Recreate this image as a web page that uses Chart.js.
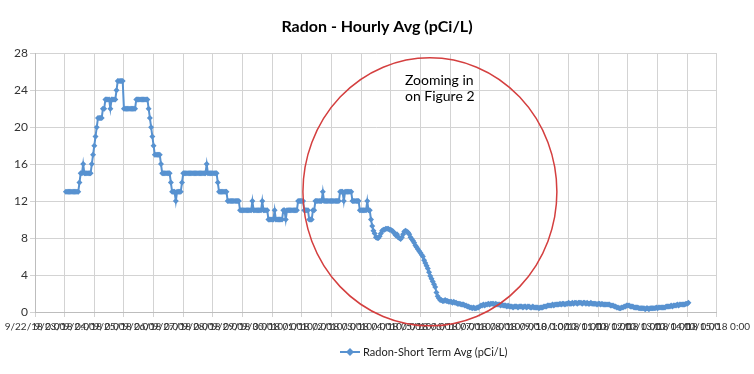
<!DOCTYPE html>
<html><head><meta charset="utf-8">
<script src="https://cdn.jsdelivr.net/npm/chart.js@4/dist/chart.umd.min.js"></script>
<style>html,body{margin:0;padding:0;background:#fff}</style>
</head><body>
<canvas id="c" width="754" height="374"></canvas>
<script>
// x tick labels: one per day, 9/22/18 .. 10/15/18
const dayLabels = ['9/22/18 0:00','9/23/18 0:00','9/24/18 0:00','9/25/18 0:00','9/26/18 0:00','9/27/18 0:00',
  '9/28/18 0:00','9/29/18 0:00','9/30/18 0:00','10/1/18 0:00','10/2/18 0:00','10/3/18 0:00','10/4/18 0:00',
  '10/5/18 0:00','10/6/18 0:00','10/7/18 0:00','10/8/18 0:00','10/9/18 0:00','10/10/18 0:00','10/11/18 0:00',
  '10/12/18 0:00','10/13/18 0:00','10/14/18 0:00','10/15/18 0:00'];
const yTicks = [0,4,8,12,16,20,24,28];
const seriesName = 'Radon-Short Term Avg (pCi/L)';
// first reading, hours after 9/22/18 0:00
const firstHour = 25;
// early readings were whole numbers: level held for a number of hourly readings
const stepLevels = [13,14,15,16,15,16,17,18,19,20,21,22,23,22,23,24,25,22,23,22,21,20,19,18,17,16,15,14,13,12,13,14,15,16,15,14,13,12,11,12,11,12,11,10,11,10,11,10,11,12,11,10,11,12,13,12,13,12,13,12,11,12,11];
const stepCounts = [11,1,2,1,6,1,1,1,1,1,4,2,4,1,4,1,5,10,10,1,1,1,1,1,5,1,7,1,3,1,4,1,19,1,8,1,7,10,10,1,7,1,4,5,1,6,2,1,9,5,4,3,2,6,1,13,3,1,6,6,6,1,2];
// later hourly readings
const decayValues = [
  10.0,9.3,8.8,8.5,8.1,8.0,8.0,8.2,8.5,
  8.8,8.9,8.9,9.0,9.0,9.0,8.9,8.9,8.8,8.7,
  8.5,8.3,8.4,8.1,8.0,7.9,8.1,
  8.4,8.7,8.8,8.7,8.6,8.4,
  8.1,7.9,7.7,
  7.5,7.2,7.0,6.8,
  6.6,6.4,6.2,6.0,
  5.6,5.3,5.0,4.7,
  4.3,3.9,3.6,
  3.3,3.0,2.7,
  2.1,1.7,1.5,1.3,
  1.3,1.2,1.2,1.3,1.2,1.2,1.1,1.1,1.1,1.0,1.1,1.0,1.0,0.9,
  0.9,0.9,0.8,0.8,0.8,0.7,0.7,0.6,0.6,0.5,0.5,0.4,0.5,0.4,
  0.4,0.5,0.5,0.6,
  0.7,0.7,0.8,0.7,0.8,0.8,0.9,0.8,0.9,0.9,0.9,
  0.8,0.9,0.8,0.8,0.8,0.7,0.8,0.7,0.7,0.7,0.6,0.7,0.6,
  0.6,0.6,0.5,0.6,0.6,0.6,0.5,0.6,0.6,0.6,0.5,0.6,0.6,0.5,0.6,0.6,0.5,0.5,0.6,0.5,0.5,0.5,0.5,0.4,0.5,
  0.5,0.5,0.6,0.6,0.6,0.7,0.7,0.7,
  0.7,0.8,0.7,0.8,0.8,0.8,0.8,0.9,0.8,
  0.9,0.9,0.8,0.9,0.9,1.0,0.9,0.9,1.0,0.9,1.0,1.0,0.9,1.0,1.0,1.0,0.9,1.0,
  1.0,0.9,1.0,0.9,0.9,1.0,0.9,0.9,0.9,0.9,0.8,0.9,0.9,0.8,0.9,0.8,0.8,0.8,0.8,0.8,0.8,
  0.7,0.7,0.7,0.6,0.6,0.5,0.5,0.4,0.4,
  0.5,0.5,0.6,0.6,0.7,0.7,
  0.7,0.6,0.6,0.6,0.5,0.5,0.5,0.5,0.4,0.4,0.4,0.4,
  0.4,0.3,0.4,0.4,0.3,0.4,0.4,0.4,
  0.4,0.4,0.5,0.4,0.5,0.5,0.5,0.5,0.5,0.5,0.6,
  0.6,0.6,0.6,0.7,0.6,0.7,0.7,0.7,0.8,0.7,0.8,0.8,0.8,0.8,
  0.8,0.9,0.9,1.0
];
const noteLines = ['Zooming in','on Figure 2'];

const points = [];
let hr = firstHour;
stepLevels.forEach((v, i) => { for (let k = 0; k < stepCounts[i]; k++) points.push({x: hr++, y: v}); });
decayValues.forEach(v => points.push({x: hr++, y: v}));

const BLUE = '#5892d0';
const FONT = "Lato, 'Liberation Sans', sans-serif";
Chart.defaults.font.family = FONT;
Chart.defaults.color = '#333';

// annotation ellipse + note, and the legend entry below the axis
const extras = {
  id: 'extras',
  afterDraw(chart, args, o) {
    const {ctx, scales: {x, y}} = chart;
    const cx = x.getPixelForValue(o.cx), cy = y.getPixelForValue(o.cy);
    const rx = Math.abs(x.getPixelForValue(o.cx + o.rx) - cx);
    const ry = Math.abs(y.getPixelForValue(o.cy + o.ry) - cy);
    ctx.save();
    ctx.strokeStyle = o.color; ctx.lineWidth = o.width;
    ctx.beginPath(); ctx.ellipse(cx, cy, rx, ry, 0, 0, Math.PI * 2); ctx.stroke();
    ctx.fillStyle = '#000'; ctx.font = '14px ' + FONT;
    ctx.textAlign = 'left'; ctx.textBaseline = 'middle';
    const tx = x.getPixelForValue(o.tx), ty = y.getPixelForValue(o.ty);
    noteLines.forEach((t, i) => ctx.fillText(t, tx, ty + i * 16));
    // legend entry
    const lx = o.legendX, ly = chart.height - o.legendFromBottom;
    ctx.strokeStyle = BLUE; ctx.lineWidth = 2;
    ctx.beginPath(); ctx.moveTo(lx, ly); ctx.lineTo(lx + 20, ly); ctx.stroke();
    ctx.fillStyle = BLUE; ctx.beginPath();
    ctx.moveTo(lx + 10, ly - 4); ctx.lineTo(lx + 14, ly); ctx.lineTo(lx + 10, ly + 4); ctx.lineTo(lx + 6, ly); ctx.closePath(); ctx.fill();
    ctx.fillStyle = '#222'; ctx.font = '11px ' + FONT;
    ctx.fillText(seriesName, lx + 23, ly);
    ctx.restore();
  }
};

new Chart(document.getElementById('c'), {
  type: 'line',
  data: { datasets: [{
    label: seriesName, data: points,
    borderColor: BLUE, backgroundColor: BLUE, borderWidth: 2,
    pointStyle: 'rectRot', pointRadius: 3, pointBorderWidth: 0, pointBackgroundColor: BLUE,
    tension: 0
  }]},
  options: {
    responsive: false, animation: false, devicePixelRatio: 1,
    layout: { padding: { left: 0, right: 0, top: 0, bottom: 37 } },
    scales: {
      x: {
        type: 'linear', min: 0, max: (dayLabels.length - 1) * 24,
        ticks: { stepSize: 24, autoSkip: false, maxRotation: 0, minRotation: 0, padding: 4,
          font: { size: 10 }, color: '#333',
          callback: v => dayLabels[Math.round(v / 24)] ?? '' },
        grid: { color: '#d3d3d3', tickLength: 5 },
        border: { color: '#bdbdbd' }
      },
      y: {
        min: 0, max: 28,
        afterBuildTicks: s => { s.ticks = yTicks.map(v => ({value: v})); },
        afterFit: s => { s.width = 35; },
        ticks: { font: { size: 12 }, color: '#333', padding: 2 },
        grid: { color: '#d3d3d3', tickLength: 5 },
        border: { color: '#bdbdbd' }
      },
      yRight: {
        position: 'right', min: 0, max: 28,
        afterFit: s => { s.width = 37; },
        ticks: { display: false }, grid: { display: false }, border: { display: false }
      }
    },
    plugins: {
      title: { display: true, text: 'Radon - Hourly Avg (pCi/L)', color: '#000',
        font: { size: 16, weight: 'bold' }, padding: { top: 17, bottom: 17 } },
      legend: { display: false },
      tooltip: { enabled: false },
      extras: { cx: 319.7, cy: 13.0, rx: 102.8, ry: 14.5, color: '#d43f3f', width: 1.5, tx: 299.5, ty: 25.1,
        legendX: 340, legendFromBottom: 22 }
    }
  },
  plugins: [extras]
});
</script>
</body></html>
